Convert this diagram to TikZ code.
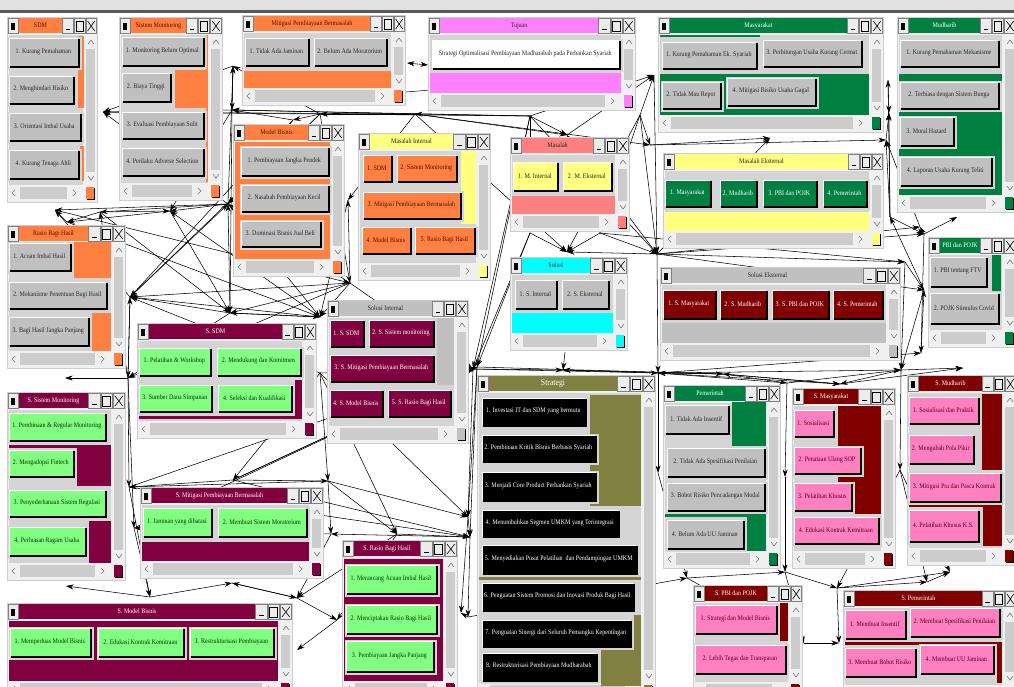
\documentclass[tikz,border=0pt]{standalone}
\usepackage{fontspec}
\setmainfont{Liberation Serif}
\newfontfamily\condf[FakeStretch=0.86]{Liberation Serif}
\usetikzlibrary{arrows.meta}
\definecolor{orng}{RGB}{255,128,64}
\definecolor{pinkt}{RGB}{255,128,255}
\definecolor{grn}{RGB}{0,128,64}
\definecolor{yel}{RGB}{255,255,128}
\definecolor{salm}{RGB}{255,128,128}
\definecolor{cyn}{RGB}{0,255,255}
\definecolor{olv}{RGB}{128,128,64}
\definecolor{mar}{RGB}{128,0,64}
\definecolor{dred}{RGB}{128,0,0}
\definecolor{lgrn}{RGB}{128,255,128}
\definecolor{pbtn}{RGB}{255,128,192}
\definecolor{gtitle}{RGB}{192,192,192}
\definecolor{bgray}{RGB}{192,192,192}
\definecolor{winbg}{RGB}{240,240,240}
\definecolor{cnt}{RGB}{212,212,212}
\definecolor{frm}{RGB}{212,212,212}
\definecolor{trough}{RGB}{204,204,204}
\definecolor{ctlbg}{RGB}{236,236,236}
\definecolor{chevc}{RGB}{120,120,120}
\definecolor{winedge}{RGB}{205,205,205}
\definecolor{tdark}{RGB}{40,40,40}
\definecolor{tbrown}{RGB}{90,10,0}
\definecolor{tgreen}{RGB}{10,50,10}
\definecolor{tpink}{RGB}{90,0,30}
\definecolor{tbar}{RGB}{225,225,225}
\newcounter{bc}\newcounter{wc}
\tikzset{
  con/.style={draw=black, line width=0.55pt, -{Stealth[length=7.5pt,width=5pt]}},
  contwo/.style={draw=black, line width=0.55pt, {Stealth[length=7.5pt,width=5pt]}-{Stealth[length=7.5pt,width=5pt]}},
  btxt/.style={font=\condf\fontsize{7}{8}\selectfont, inner sep=0pt},
  ttxt/.style={font=\condf\fontsize{7}{8}\selectfont, inner sep=0pt},
  chev/.style={draw=chevc, line width=0.6pt},
}
% window: x1,y1,x2,y2,title end,title colour,title text colour,title
\newcommand\win[8]{%
  \stepcounter{wc}%
  \pgfmathsetmacro\cw{(#3-#5)/3}%
  \fill[winbg] (#1,#2) rectangle (#3,#4);
  \draw[winedge, line width=0.4pt] (#1,#2) rectangle (#3,#4);
  \fill[ctlbg] (#1+1,#2+1) rectangle (#1+11,#2+16);
  \draw[gray, line width=0.3pt] (#1+1,#2+1) rectangle (#1+11,#2+16);
  \fill[black] (#1+4,#2+5.5) rectangle (#1+8,#2+12.5);
  \fill[#6] (#1+12,#2+1) rectangle (#5,#2+16);
  \node[ttxt,text=#7] (t\arabic{wc}) at ({(#1+12+#5)/2},#2+8.5) {#8};
  \draw[gray, line width=0.3pt, fill=ctlbg] (#5+0.5,#2+1) rectangle (#5+\cw-0.5,#2+16);
  \draw[gray, line width=0.3pt, fill=ctlbg] (#5+\cw+0.5,#2+1) rectangle (#5+2*\cw-0.5,#2+16);
  \draw[gray, line width=0.3pt, fill=ctlbg] (#5+2*\cw+0.5,#2+1) rectangle (#3-0.5,#2+16);
  \draw[black, line width=1.3pt] (#5+0.3*\cw,#2+12.5) -- (#5+0.7*\cw,#2+12.5);
  \draw[black, line width=0.6pt] (#5+\cw+2.3,#2+4) rectangle (#5+2*\cw-2.3,#2+14);
  \draw[black, line width=0.6pt] (#5+2*\cw+2.3,#2+4) -- (#3-2.3,#2+14) (#5+2*\cw+2.3,#2+14) -- (#3-2.3,#2+4);
  \fill[cnt] (#1+2,#2+18) rectangle (#3-14,#4-17);
  \draw[chev] (#3-9,#2+27) -- (#3-6,#2+23) -- (#3-3,#2+27);
  \fill[trough] (#3-11,#2+32) rectangle (#3-2,#4-30);
  \draw[chev] (#3-9,#4-26) -- (#3-6,#4-22) -- (#3-3,#4-26);
  \draw[chev] (#1+8,#4-12) -- (#1+5,#4-9) -- (#1+8,#4-6);
  \fill[trough] (#1+13,#4-15) rectangle (#3-30,#4-3);
  \draw[chev] (#3-24,#4-12) -- (#3-21,#4-9) -- (#3-24,#4-6);
  \fill[black] (#3-10,#4-14) rectangle (#3-2,#4-2);
  \fill[#6] (#3-11,#4-15) rectangle (#3-3,#4-3);
}
% button: x1,y1,x2,y2,fill,text colour,text
\newcommand\btn[7]{%
  \stepcounter{bc}%
  \fill[frm] (#1-1.5,#2-1.5) rectangle (#3+1.5,#4+1.5);
  \fill[black] (#1+1,#2+1) rectangle (#3,#4);
  \fill[#5] (#1,#2) rectangle (#3-2.5,#4-2.5);
  \draw[white, line width=0.7pt] (#1+0.35,#4-2.5) |- (#3-2.5,#2+0.35);
  \node[btxt, text=#6] (b\arabic{bc}) at ({(#1+#3)/2-1.2},{(#2+#4)/2-1.2}) {#7};
}
\begin{document}
\begin{tikzpicture}[x=1pt,y=-1pt]
\useasboundingbox (0,0) rectangle (1014,686);
\clip (0,0) rectangle (1014,686);
\fill[white] (0,0) rectangle (1014,686);
\fill[tbar] (0,0) rectangle (1014,10);
\fill[black!65] (0,10) rectangle (1014,12.5);
% hubs of the connectors
\coordinate (c1) at (103,112); \coordinate (c2) at (233,66); \coordinate (c3) at (232,110);
\coordinate (c4) at (228,204); \coordinate (c5) at (170,211); \coordinate (c6) at (100,212);
\coordinate (c7) at (55,210); \coordinate (c8) at (67,222); \coordinate (c9) at (320,114);
\coordinate (c10) at (415,114); \coordinate (c11) at (293,120); \coordinate (c12) at (407,63);
\coordinate (c13) at (428,65); \coordinate (c14) at (530,116); \coordinate (c15) at (567,135);
\coordinate (c16) at (654,75); \coordinate (c17) at (640,115); \coordinate (c18) at (770,138);
\coordinate (c19) at (888,80); \coordinate (c20) at (889,113); \coordinate (c21) at (886,140);
\coordinate (c22) at (890,217); \coordinate (c23) at (920,227); \coordinate (c24) at (957,217);
\coordinate (c25) at (130,297); \coordinate (c26) at (230,313); \coordinate (c27) at (65,378);
\coordinate (c28) at (128,378); \coordinate (c29) at (320,317); \coordinate (c30) at (350,283);
\coordinate (c31) at (320,373); \coordinate (c32) at (477,367); \coordinate (c33) at (567,252);
\coordinate (c34) at (563,370); \coordinate (c35) at (658,373); \coordinate (c36) at (473,369);
\coordinate (c37) at (657,254); \coordinate (c38) at (924,234); \coordinate (c39) at (924,290);
\coordinate (c40) at (921,353); \coordinate (c41) at (963,368); \coordinate (c42) at (787,383);
\coordinate (c43) at (840,384); \coordinate (c44) at (901,370); \coordinate (c45) at (723,374);
\coordinate (c46) at (129,487); \coordinate (c47) at (134,528); \coordinate (c48) at (233,480);
\coordinate (c49) at (150,597); \coordinate (c50) at (66,586); \coordinate (c51) at (232,583);
\coordinate (c52) at (328,481); \coordinate (c53) at (331,534); \coordinate (c54) at (397,534);
\coordinate (c55) at (470,537); \coordinate (c56) at (297,598); \coordinate (c57) at (337,620);
\coordinate (c58) at (297,650); \coordinate (c59) at (461,613); \coordinate (c60) at (658,473);
\coordinate (c61) at (687,578); \coordinate (c62) at (468,517); \coordinate (c63) at (468,617);
\coordinate (c64) at (785,572); \coordinate (c65) at (837,588); \coordinate (c66) at (927,582);
\coordinate (c67) at (900,470); \coordinate (c68) at (785,477); \coordinate (c69) at (950,572);
\coordinate (c70) at (839,643); \coordinate (c71) at (804,643); \coordinate (c73) at (530,233);
\coordinate (c74) at (600,233); \coordinate (c75) at (565,352); \coordinate (c76) at (905,262);
\coordinate (c77) at (348,200); \coordinate (c78) at (650,145); \coordinate (c79) at (406,92);
\coordinate (c80) at (430,90);
% connectors
\foreach \a/\b in {c3/c1, c4/c1, c9/c1, c10/c1, c2/c1, c3/c2, c4/c2, c9/c2, c11/c3, c10/c3, c14/c3,
 c4/c6, c4/c7, c5/c8, c4/c5, c6/c8, c25/c4, c26/c4, c30/c4, c29/c5, c28/c6, c25/c7, c9/c11, c10/c9,
 c14/c10, c14/c9, c10/c15, c14/c15, c17/c16, c15/c16, c14/c16, c37/c18, c78/c18, c17/c78, c10/c78,
 c22/c19, c21/c20, c22/c20, c23/c21, c78/c21, c37/c38, c22/c38, c38/c24, c37/c15, c73/c33, c10/c33,
 c75/c34, c45/c35, c42/c35, c37/c35, c31/c36, c28/c27, c26/c25, c29/c25, c30/c25, c11/c25, c9/c25,
 c3/c26, c4/c29, c30/c28, c26/c28, c52/c46, c48/c46, c28/c46, c28/c47, c53/c47, c46/c49, c49/c50,
 c49/c51, c56/c51, c53/c56, c54/c56, c56/c57, c57/c58, c54/c57, c55/c53, c31/c54, c31/c48, c32/c55,
 c36/c62, c55/c63, c63/c59, c62/c59, c35/c60, c60/c61, c63/c61, c61/c64, c64/c65, c65/c66, c65/c69,
 c71/c70, c65/c70, c68/c64, c42/c68, c44/c67, c67/c66, c67/c65, c43/c41, c44/c41, c35/c40, c42/c44,
 c44/c43, c43/c45, c37/c39, c76/c39, c37/c76, c74/c76, c39/c22, c37/c23, c14/c32, c73/c32, c74/c37,
 c74/c33, c36/c34, c35/c34, c45/c34, c17/c37, c30/c77, c10/c77, c14/c36,
 c30/c26, c29/c26, c9/c4, c11/c4, c3/c5, c28/c25, c31/c25, c52/c53, c52/c54, c54/c55, c62/c55,
 c32/c62, c31/c52, c30/c29, c9/c30, c77/c29, c14/c73, c15/c74, c17/c74, c37/c33, c45/c42, c35/c43,
 c61/c71, c64/c71, c66/c69, c67/c69, c40/c39, c38/c23, c22/c21, c19/c20, c2/c3, c8/c7, c6/c5,
 c36/c35, c32/c45, c30/c36, c26/c29, c25/c28, c48/c52, c51/c56, c47/c49,
 c46/c55, c48/c55, c52/c62, c31/c62, c46/c32, c47/c36, c48/c32, c48/c36, c5/c26, c6/c26, c8/c29,
 c7/c30, c17/c33, c16/c37, c14/c37, c73/c36, c76/c44, c38/c40, c39/c44, c35/c44, c45/c43}
 {\draw[con] (\a) -- (\b);}
\draw[contwo] (c12) -- (c13);
\draw[black, line width=0.5pt] (c79) -- (c80);
% ---------- windows ----------
% SDM
\win{7}{17}{97}{202}{62}{orng}{tbrown}{SDM}
\fill[orng] (78,36) rectangle (84,108);
\fill[orng] (80,146) rectangle (84,181);
\btn{9}{38}{80}{68}{bgray}{tdark}{1. Kurang Pemahaman}
\btn{9}{76}{75}{105}{bgray}{tdark}{2. Menghindari Risiko}
\btn{9}{113}{82}{142}{bgray}{tdark}{3. Orientasi Imbal Usaha}
\btn{9}{150}{80}{180}{bgray}{tdark}{4. Kurang Tenaga Ahli}
% Sistem Monitoring
\win{119}{17}{222}{200}{186}{orng}{tbrown}{Sistem Monitoring}
\fill[orng] (175,70) rectangle (208,108);
\fill[orng] (206,35) rectangle (208,182);
\btn{122}{37}{205}{67}{bgray}{tdark}{1. Monitoring Belum Optimal}
\btn{122}{73}{172}{103}{bgray}{tdark}{2. Biaya Tinggi}
\btn{122}{112}{205}{140}{bgray}{tdark}{3. Evaluasi Pembiayaan Sulit}
\btn{122}{148}{205}{177}{bgray}{tdark}{4. Perilaku Adverse Selection}
% Mitigasi Pembiayaan Bermasalah
\win{242}{15}{405}{105}{370}{orng}{tbrown}{Mitigasi Pembiayaan Bermasalah}
\fill[orng] (244,71) rectangle (391,88);
\btn{245}{38}{310}{67}{bgray}{tdark}{1. Tidak Ada Jaminan}
\btn{314}{38}{388}{67}{bgray}{tdark}{2. Belum Ada Moratorium}
% Tujuan
\win{428}{17}{635}{110}{598}{pinkt}{tdark}{Tujuan}
\fill[pinkt] (430,73) rectangle (621,93);
\btn{432}{40}{621}{70}{white}{tdark}{Strategi Optimalisasi Pembiayaan Madharabah pada Perbankan Syariah}
% Masyarakat
\win{658}{17}{883}{132}{847}{grn}{white}{Masyarakat}
\fill[grn] (660,74) rectangle (869,115);
\fill[grn] (660,35) rectangle (760,37);
\btn{662}{42}{758}{70}{bgray}{tdark}{1. Kurang Pemahaman Ek. Syariah}
\btn{763}{40}{863}{68}{bgray}{tdark}{3. Perhitungan Usaha Kurang Cermat}
\btn{662}{82}{722}{110}{bgray}{tdark}{2. Tidak Mau Repot}
\btn{727}{78}{817}{107}{bgray}{tdark}{4. Mitigasi Risiko Usaha Gagal}
% Mudharib
\win{897}{17}{1016}{212}{980}{grn}{white}{Mudharib}
\fill[grn] (899,74) rectangle (1002,195);
\btn{900}{40}{1000}{68}{bgray}{tdark}{1. Kurang Pemahaman Mekanisme}
\btn{900}{82}{1000}{110}{bgray}{tdark}{2. Terbiasa dengan Sistem Bunga}
\btn{900}{117}{955}{147}{bgray}{tdark}{3. Moral Hazard}
\btn{900}{157}{993}{187}{bgray}{tdark}{4. Laporan Usaha Kurang Teliti}
% Model Bisnis
\win{233}{124}{344}{276}{308}{orng}{tbrown}{Model Bisnis}
\fill[orng] (235,142) rectangle (330,259);
\btn{241}{147}{330}{177}{bgray}{tdark}{1. Pembiayaan Jangka Pendek}
\btn{241}{185}{330}{213}{bgray}{tdark}{2. Nasabah Pembiayaan Kecil}
\btn{241}{221}{322}{248}{bgray}{tdark}{3. Dominasi Bisnis Jual Beli}
% Masalah Internal
\win{358}{133}{490}{280}{453}{yel}{tdark}{Masalah Internal}
\fill[yel] (461,151) rectangle (476,224);
\btn{363}{155}{393}{183}{orng}{tbrown}{1. SDM}
\btn{397}{155}{458}{183}{orng}{tbrown}{2. Sistem Monitoring}
\btn{363}{192}{462}{220}{orng}{tbrown}{3. Mitigasi Pembiayaan Bermasalah}
\btn{362}{227}{412}{255}{orng}{tbrown}{4. Model Bisnis}
\btn{415}{227}{476}{255}{orng}{tbrown}{5. Rasio Bagi Hasil}
% Masalah
\win{510}{137}{629}{231}{593}{salm}{tdark}{Masalah}
\fill[salm] (512,196) rectangle (615,214);
\btn{513}{162}{559}{192}{yel}{tdark}{1. M. Internal}
\btn{563}{162}{613}{192}{yel}{tdark}{2. M. Eksternal}
% Masalah Eksternal
\win{663}{153}{883}{248}{848}{yel}{tdark}{Masalah Eksternal}
\fill[yel] (665,212) rectangle (869,231);
\btn{665}{180}{712}{208}{grn}{white}{1. Masyarakat}
\btn{720}{180}{758}{208}{grn}{white}{2. Mudharib}
\btn{763}{180}{818}{208}{grn}{white}{3. PBI dan POJK}
\btn{823}{180}{868}{208}{grn}{white}{4. Pemerintah}
% Rasio Bagi Hasil
\win{7}{225}{125}{368}{88}{orng}{tbrown}{Rasio Bagi Hasil}
\fill[orng] (74,242) rectangle (111,278);
\fill[orng] (92,313) rectangle (111,351);
\btn{9}{243}{72}{272}{bgray}{tdark}{1. Acuan Imbal Hasil}
\btn{9}{282}{108}{310}{bgray}{tdark}{2. Mekanisme Penentuan Bagi Hasil}
\btn{9}{317}{90}{347}{bgray}{tdark}{3. Bagi Hasil Jangka Panjang}
% S. Sistem Monitoring
\win{7}{392}{125}{580}{88}{mar}{white}{S. Sistem Monitoring}
\fill[mar] (9,445) rectangle (111,448);
\fill[mar] (77,445) rectangle (111,486);
\fill[mar] (89,521) rectangle (111,563);
\btn{9}{413}{107}{442}{lgrn}{tgreen}{1. Pembinaan \& Regular Monitoring}
\btn{9}{450}{75}{478}{lgrn}{tgreen}{2. Mengadopsi Fintech}
\btn{9}{490}{107}{518}{lgrn}{tgreen}{3. Penyederhanaan Sistem Regulasi}
\btn{9}{527}{87}{557}{lgrn}{tgreen}{4. Perluasan Ragam Usaha}
% S. SDM
\win{137}{323}{316}{438}{282}{mar}{white}{S. SDM}
\fill[mar] (139,416) rectangle (302,419);
\fill[mar] (295,380) rectangle (302,419);
\btn{139}{348}{212}{377}{lgrn}{tgreen}{1. Pelatihan \& Workshop}
\btn{217}{348}{302}{377}{lgrn}{tgreen}{2. Mendukung dan Komitmen}
\btn{139}{385}{213}{413}{lgrn}{tgreen}{3. Sumber Dana Simpanan}
\btn{218}{385}{293}{413}{lgrn}{tgreen}{4. Seleksi dan Kualifikasi}
% Solusi Internal
\win{327}{300}{468}{443}{432}{gtitle}{tdark}{Solusi Internal}
\fill[gtitle] (437,318) rectangle (454,385);
\btn{330}{320}{365}{348}{mar}{white}{1. S. SDM}
\btn{369}{320}{435}{348}{mar}{white}{2. S. Sistem monitoring}
\btn{330}{355}{435}{383}{mar}{white}{3. S. Mitigasi Pembiayaan Bermasalah}
\btn{330}{390}{384}{418}{mar}{white}{4. S. Model Bisnis}
\btn{388}{390}{452}{418}{mar}{white}{5. S. Rasio Bagi Hasil}
% Solusi
\win{510}{257}{627}{350}{590}{cyn}{tdark}{Solusi}
\fill[cyn] (512,313) rectangle (613,333);
\btn{515}{280}{558}{310}{bgray}{tdark}{1. S. Internal}
\btn{562}{280}{610}{310}{bgray}{tdark}{2. S. Eksternal}
% Solusi Eksternal
\win{660}{267}{900}{360}{863}{gtitle}{tdark}{Solusi Eksternal}
\fill[gtitle] (662,323) rectangle (886,343);
\btn{663}{290}{717}{320}{dred}{white}{1. S. Masyarakat}
\btn{720}{290}{768}{320}{dred}{white}{2. S. Mudharib}
\btn{772}{290}{830}{320}{dred}{white}{3. S. PBI dan POJK}
\btn{833}{290}{884}{320}{dred}{white}{4. S. Pemerintah}
% PBI dan POJK
\win{928}{237}{1016}{347}{980}{grn}{white}{PBI dan POJK}
\fill[grn] (992,255) rectangle (1001,291);
\btn{930}{257}{988}{288}{bgray}{tdark}{1. PBI tentang FTV}
\btn{930}{293}{1000}{325}{bgray}{tdark}{2. POJK Stimulus Covid}
% Strategi
\win{477}{375}{655}{700}{617}{olv}{white}{\fontsize{9}{10}\selectfont Strategi}
\fill[olv] (590,395) rectangle (641,506);
\fill[olv] (479,577) rectangle (641,580);
\fill[olv] (634,615) rectangle (641,686);
\fill[olv] (601,650) rectangle (641,686);
\btn{482}{398}{587}{427}{black}{white}{1. Investasi IT dan SDM yang bermutu}
\btn{482}{435}{597}{463}{black}{white}{2. Pembinaan Kritik Bisnis Berbasis Syariah}
\btn{482}{472}{597}{502}{black}{white}{3. Menjadi Core Product Perbankan Syariah}
\btn{482}{510}{620}{538}{black}{white}{4. Menumbuhkan Segmen UMKM yang Terintegrasi}
\btn{482}{545}{638}{575}{black}{white}{5. Menyediakan Pusat Pelatihan\ \ dan Pendampingan UMKM}
\btn{482}{583}{635}{612}{black}{white}{6. Penguatan Sistem Promosi dan Inovasi Produk Bagi Hasil}
\btn{482}{620}{632}{648}{black}{white}{7. Penguatan Sinergi dari Seluruh Pemangku Kepentingan}
\btn{482}{653}{598}{682}{black}{white}{8. Restrukturisasi Pembiayaan Mudharabah}
% Pemerintah
\win{663}{385}{780}{568}{745}{grn}{white}{Pemerintah}
\fill[grn] (732,402) rectangle (766,446);
\fill[grn] (665,514) rectangle (766,517);
\fill[grn] (747,514) rectangle (766,551);
\btn{665}{405}{730}{435}{bgray}{tdark}{1. Tidak Ada Insentif}
\btn{667}{448}{766}{478}{bgray}{tdark}{2. Tidak Ada Spesifikasi Penilaian}
\btn{667}{483}{766}{512}{bgray}{tdark}{3. Bobot Risiko Pencadangan Modal}
\btn{667}{520}{745}{550}{bgray}{tdark}{4. Belum Ada UU Jaminan}
% S. Masyarakat
\win{792}{388}{895}{568}{858}{dred}{white}{S. Masyarakat}
\fill[dred] (838,406) rectangle (881,514);
\btn{794}{410}{835}{438}{pbtn}{tpink}{1. Sosialisasi}
\btn{794}{447}{862}{475}{pbtn}{tpink}{2. Penataan Ulang SOP}
\btn{794}{483}{853}{512}{pbtn}{tpink}{3. Pelatihan Khusus}
\btn{794}{517}{880}{545}{pbtn}{tpink}{4. Edukasi Kontrak Kemitraan}
% S. Mudharib
\win{907}{375}{1016}{565}{982}{dred}{white}{S. Mudharib}
\fill[dred] (982,394) rectangle (1002,470);
\fill[dred] (909,505) rectangle (1002,507);
\fill[dred] (983,505) rectangle (1002,546);
\btn{909}{397}{980}{425}{pbtn}{tpink}{1. Sosialisasi dan Praktik}
\btn{909}{435}{975}{465}{pbtn}{tpink}{2. Mengubah Pola Pikir}
\btn{909}{473}{1002}{503}{pbtn}{tpink}{3. Mitigasi Pra dan Pasca Kontrak}
\btn{909}{510}{980}{543}{pbtn}{tpink}{4. Pelatihan Khusus K.S.}
% S. PBI dan POJK
\win{693}{585}{802}{699}{767}{dred}{white}{S. PBI dan POJK}
\fill[dred] (780,603) rectangle (788,641);
\btn{695}{605}{778}{635}{pbtn}{tpink}{1. Strategi dan Model Bisnis}
\btn{695}{645}{787}{675}{pbtn}{tpink}{2. Lebih Tegas dan Transparan}
% S. Pemerintah
\win{843}{590}{1016}{702}{982}{dred}{white}{S. Pemerintah}
\fill[dred] (845,642) rectangle (1002,645);
\fill[dred] (997,642) rectangle (1002,683);
\btn{845}{610}{907}{640}{pbtn}{tpink}{1. Membuat Insentif}
\btn{910}{608}{1001}{638}{pbtn}{tpink}{2. Membuat Spesifikasi Penilaian}
\btn{845}{648}{917}{678}{pbtn}{tpink}{3. Membuat Bobot Risiko}
\btn{920}{645}{995}{675}{pbtn}{tpink}{4. Membuat UU Jaminan}
% S. Mitigasi Pembiayaan Bermasalah
\win{140}{487}{323}{578}{287}{mar}{white}{S. Mitigasi Pembiayaan Bermasalah}
\fill[mar] (142,542) rectangle (309,561);
\btn{143}{508}{213}{538}{lgrn}{tgreen}{1. Jaminan yang dibatasi}
\btn{218}{508}{308}{538}{lgrn}{tgreen}{2. Membuat Sistem Moratorium}
% S. Rasio Bagi Hasil
\win{342}{540}{457}{698}{420}{mar}{white}{S. Rasio Bagi Hasil}
\fill[mar] (344,559) rectangle (443,681);
\btn{346}{565}{438}{595}{lgrn}{tgreen}{1. Merancang Acuan Imbal Hasil}
\btn{346}{605}{438}{635}{lgrn}{tgreen}{2. Menciptakan Rasio Bagi Hasil}
\btn{346}{641}{435}{673}{lgrn}{tgreen}{3. Pembiayaan Jangka Panjang}
% S. Model Bisnis
\win{7}{603}{292}{698}{255}{mar}{white}{S. Model Bisnis}
\fill[mar] (9,621) rectangle (278,681);
\btn{10}{628}{92}{658}{lgrn}{tgreen}{1. Memperluas Model Bisnis}
\btn{98}{628}{185}{658}{lgrn}{tgreen}{2. Edukasi Kontrak Kemitraan}
\btn{190}{628}{275}{658}{lgrn}{tgreen}{3. Restrukturisasi Pembiayaan}
\end{tikzpicture}
\end{document}
